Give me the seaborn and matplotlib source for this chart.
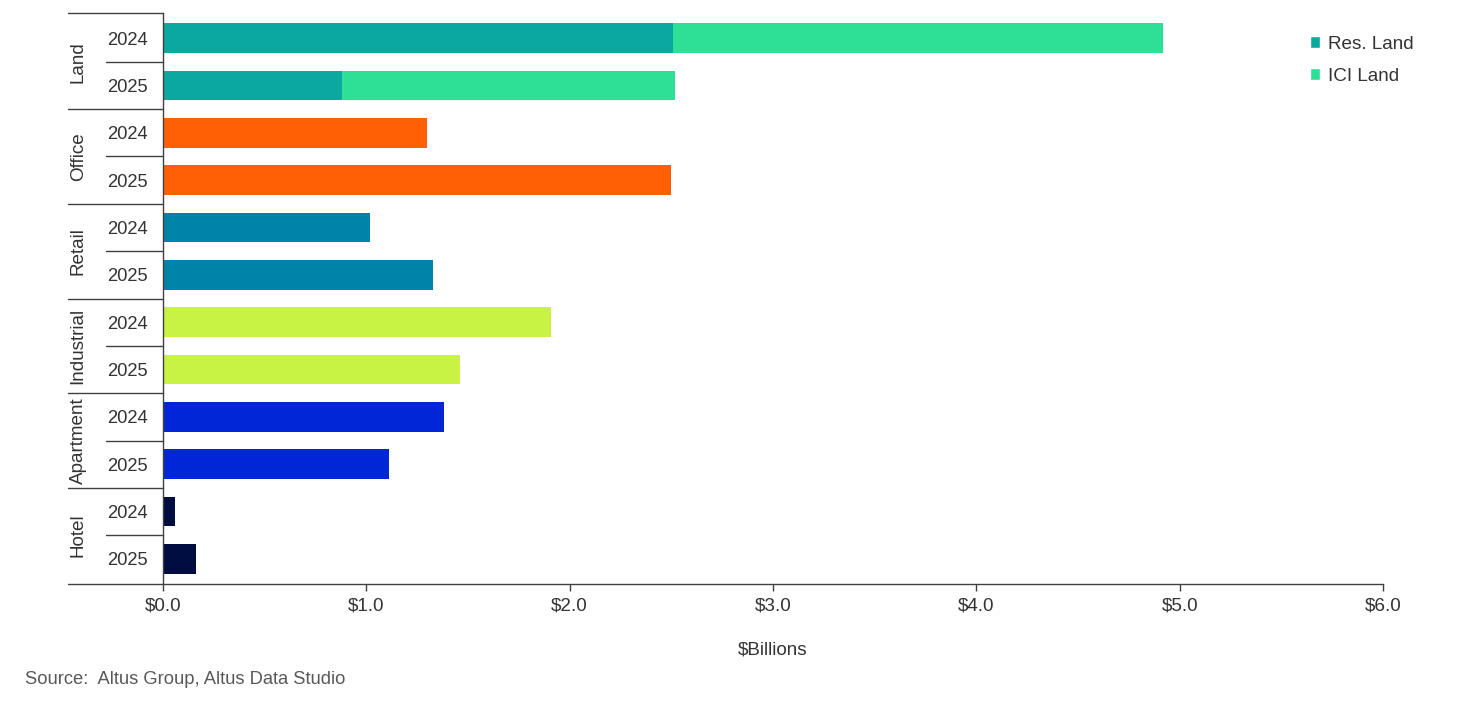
import pandas as pd
import matplotlib
matplotlib.use("Agg")
import matplotlib.pyplot as plt
import matplotlib.transforms as mtransforms
from matplotlib.patches import Patch
import seaborn as sns

# Data ($ billions)
categories = ["Land", "Office", "Retail", "Industrial", "Apartment", "Hotel"]
years = ["2024", "2025"]
res_land = [2.51, 0.88]
ici_land = [2.41, 1.64]
office = [1.30, 2.50]
retail = [1.02, 1.33]
industrial = [1.91, 1.46]
apartment = [1.38, 1.11]
hotel = [0.06, 0.16]
x_ticks = [0, 1, 2, 3, 4, 5, 6]

colors = {
    "Res. Land": "#0aa89e",
    "ICI Land": "#2ee096",
    "Office": "#ff6005",
    "Retail": "#0083a9",
    "Industrial": "#c8f244",
    "Apartment": "#0026d6",
    "Hotel": "#000d40",
}

# one row per category/year
rows = [f"{c} {y}" for c in categories for y in years]
single = {"Office": office, "Retail": retail, "Industrial": industrial,
          "Apartment": apartment, "Hotel": hotel}

single_df = pd.DataFrame(
    [(f"{c} {y}", v, c) for c, vals in single.items() for y, v in zip(years, vals)],
    columns=["row", "value", "series"])
land_total_df = pd.DataFrame({"row": [f"Land {y}" for y in years],
                              "value": [r + i for r, i in zip(res_land, ici_land)],
                              "series": "ICI Land"})
land_res_df = pd.DataFrame({"row": [f"Land {y}" for y in years],
                            "value": res_land, "series": "Res. Land"})

sns.set_style("white")
plt.rcParams["font.family"] = ["Liberation Sans", "DejaVu Sans"]
fs = 13.6
txt = "#333333"

fig = plt.figure(figsize=(14.65, 7.16), dpi=100)
ax = fig.add_axes([163 / 1465, 1 - 584 / 716, 1220 / 1465, 571 / 716])

bw = 0.63
for df in (single_df, land_total_df, land_res_df):
    sns.barplot(data=df, x="value", y="row", hue="series", palette=colors,
                order=rows, orient="h", width=bw, legend=False, ax=ax,
                saturation=1, errorbar=None, linewidth=0)

ax.set_xlim(0, 6)
ax.set_ylim(11.53, -0.53)
ax.set_xticks(x_ticks)
ax.set_xticklabels([f"${t:.1f}" for t in x_ticks], fontsize=fs, color=txt)
ax.set_yticks(range(len(rows)))
ax.set_yticklabels([r.split()[-1] for r in rows], fontsize=13.2, color=txt)
ax.tick_params(axis="y", length=0, pad=11)
ax.tick_params(axis="x", length=5, width=1, color="#404040", direction="out",
               bottom=True, pad=5)
ax.set_ylabel("")
ax.set_xlabel("$Billions", fontsize=fs, color=txt, labelpad=19)

for s in ("top", "right"):
    ax.spines[s].set_visible(False)
for s in ("left", "bottom"):
    ax.spines[s].set_color("#404040")
    ax.spines[s].set_linewidth(1)

# category separators and labels on the left
trans = mtransforms.blended_transform_factory(ax.transAxes, ax.transData)
line_kw = dict(color="#404040", linewidth=1, clip_on=False, transform=trans)
for k, cat in enumerate(categories):
    top = 2 * k - 0.5 if k > 0 else -0.53
    ax.plot([-0.078, 0], [top, top], **line_kw)
    ax.plot([-0.047, 0], [2 * k + 0.5, 2 * k + 0.5], **line_kw)
    ax.text(-0.0695, 2 * k + 0.5, cat, rotation=90, ha="center", va="center",
            fontsize=fs, color=txt, transform=trans)
ax.plot([-0.078, 0], [0, 0], color="#404040", linewidth=1, clip_on=False,
        transform=ax.transAxes)

handles = [Patch(facecolor=colors["Res. Land"], label="Res. Land"),
           Patch(facecolor=colors["ICI Land"], label="ICI Land")]
ax.legend(handles=handles, loc="upper right", bbox_to_anchor=(1.039, 0.99),
          frameon=False, fontsize=fs, handlelength=0.55, handleheight=0.55,
          handletextpad=0.4, labelspacing=0.8, labelcolor=txt)

fig.text(25 / 1465, 1 - 679 / 716, "Source:  Altus Group, Altus Data Studio",
         ha="left", va="center", fontsize=13.2, color="#595959")

fig.savefig("out.png", dpi=100)
